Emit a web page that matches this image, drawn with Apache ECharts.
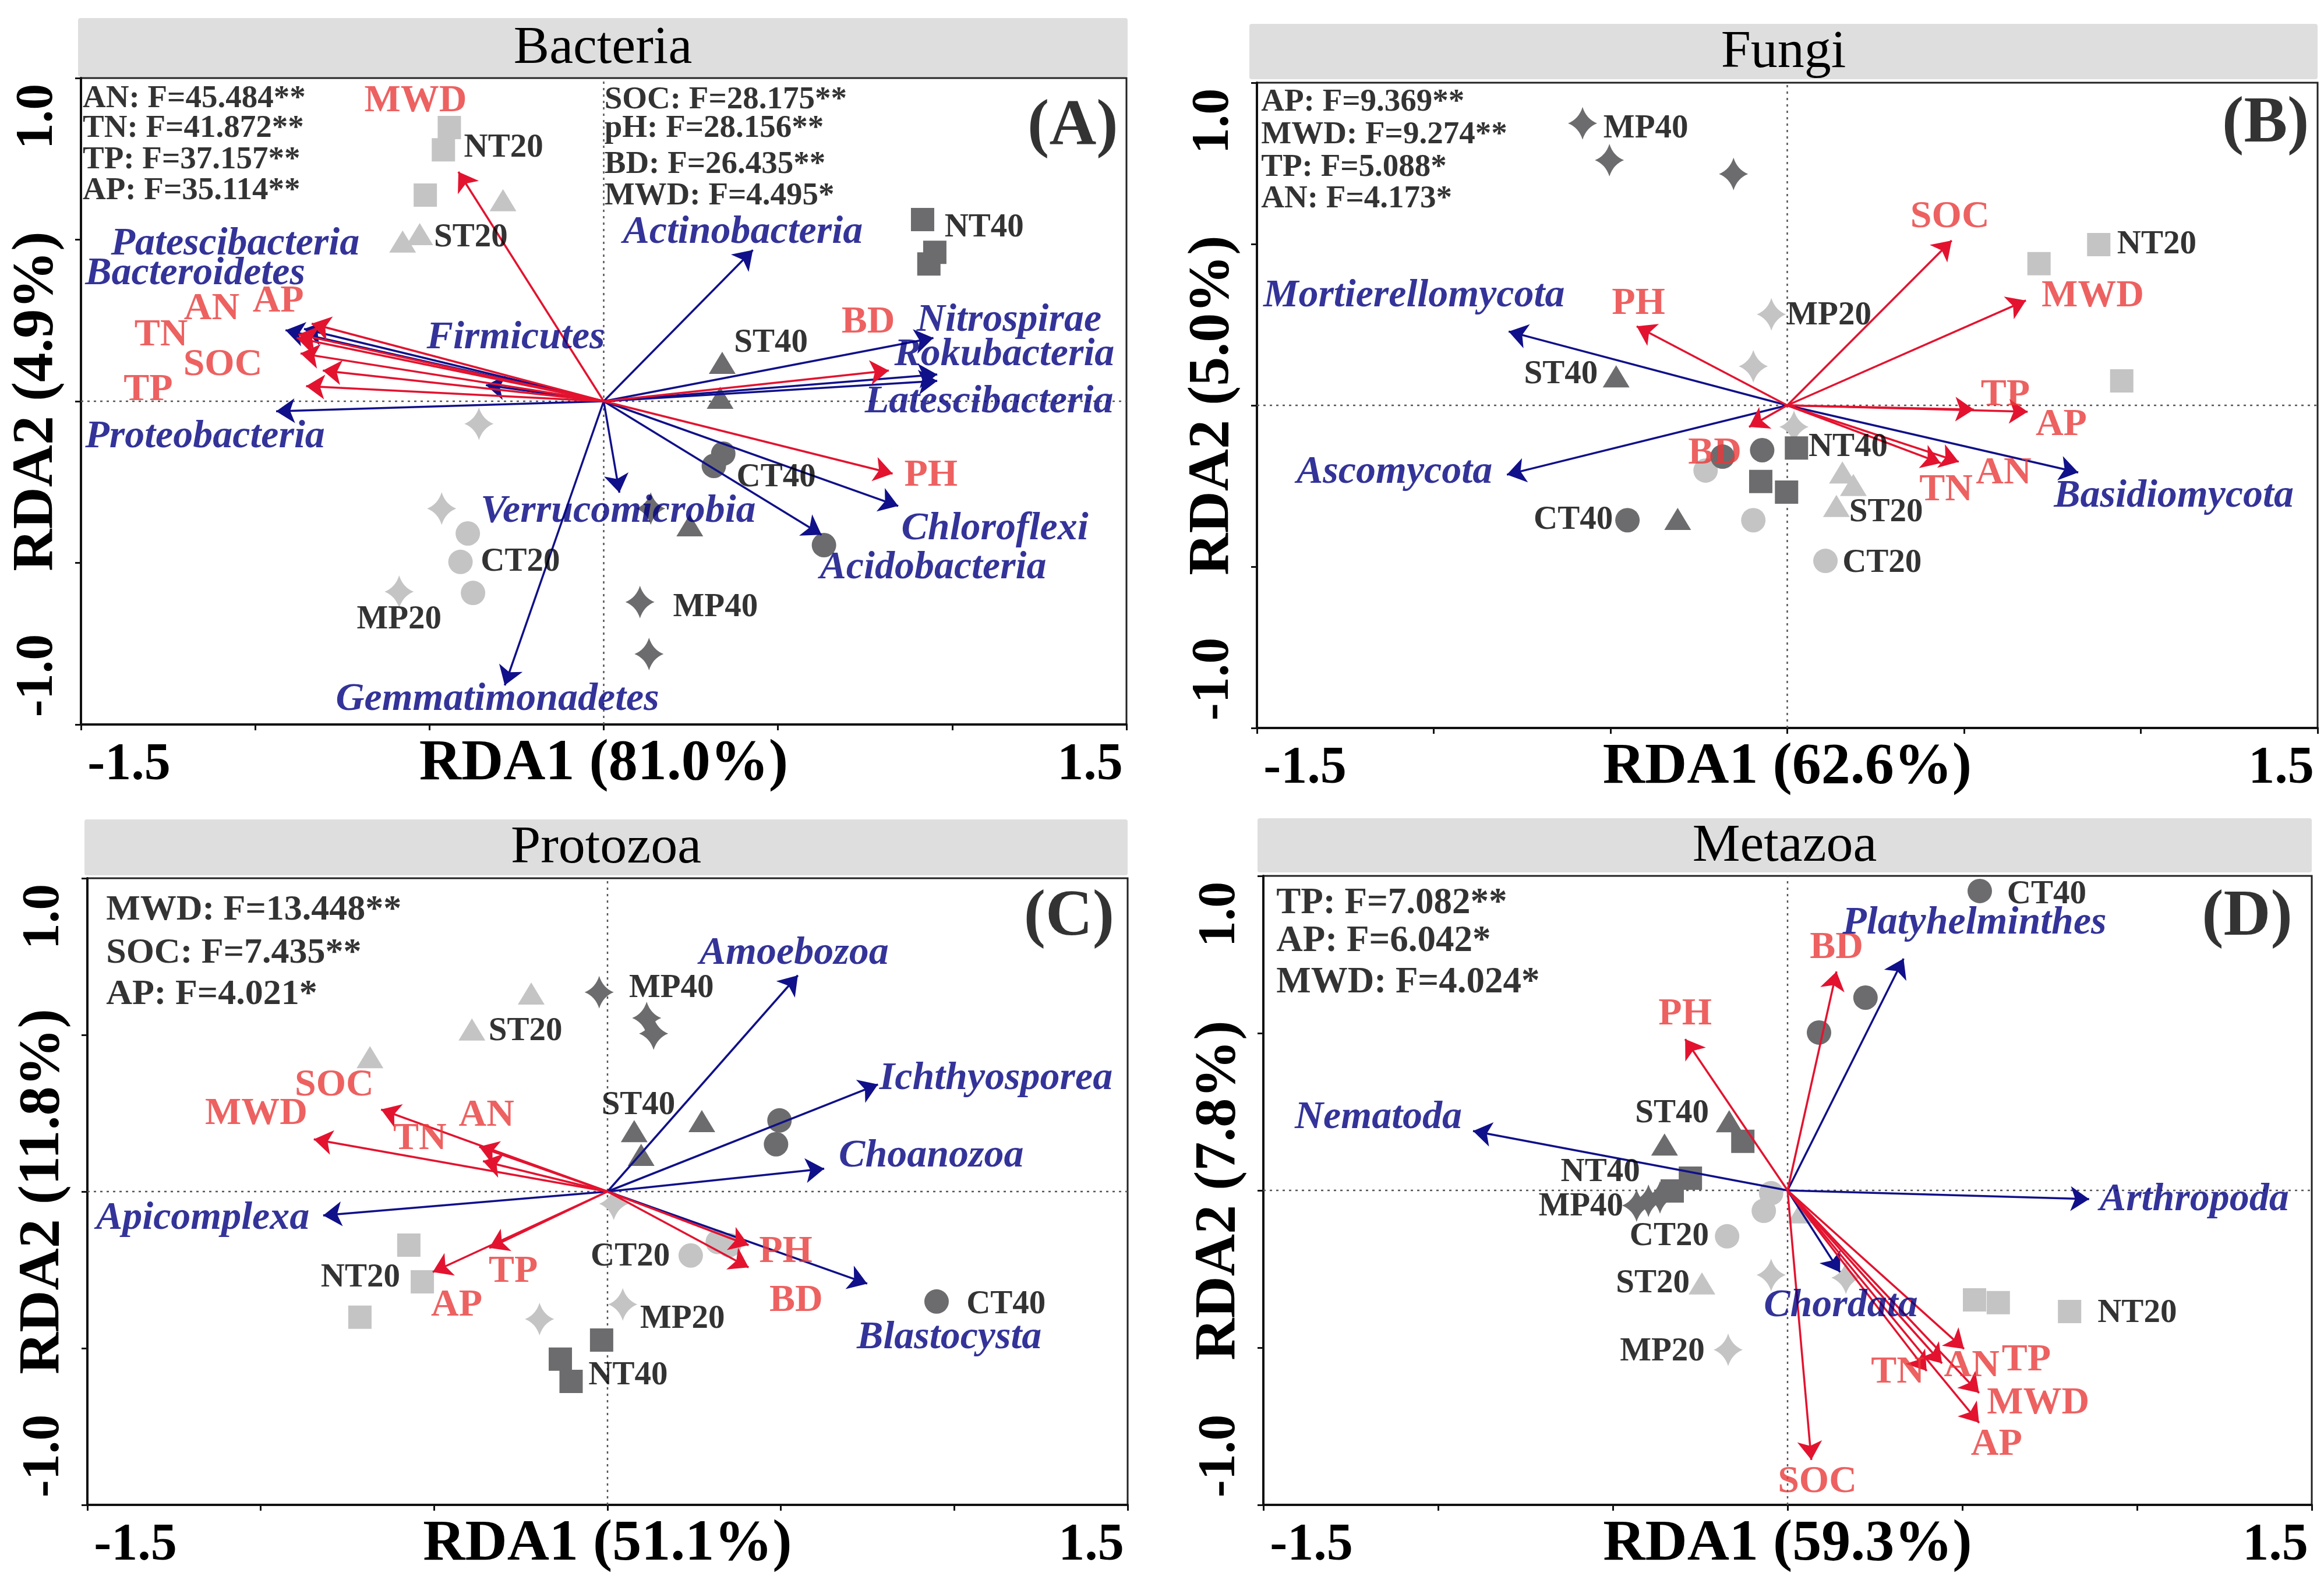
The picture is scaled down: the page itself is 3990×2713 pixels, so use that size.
<!DOCTYPE html>
<html><head><meta charset="utf-8">
<script src="https://cdn.jsdelivr.net/npm/echarts@6/dist/echarts.min.js"></script>
<style>html,body{margin:0;padding:0;background:#fff}#c{width:3990px;height:2713px}</style>
</head><body><div id="c"></div>
<script>
// ---------------- DATA ----------------
const panelTitles = ['Bacteria', 'Fungi', 'Protozoa', 'Metazoa'];
const panelLetters = ['(A)', '(B)', '(C)', '(D)'];
const rda1Names = ['RDA1 (81.0%)', 'RDA1 (62.6%)', 'RDA1 (51.1%)', 'RDA1 (59.3%)'];
const rda2Names = ['RDA2 (4.9%)', 'RDA2 (5.0%)', 'RDA2 (11.8%)', 'RDA2 (7.8%)'];
const xTickLabels = ['-1.5', '1.5'];
const yTickLabels = ['-1.0', '1.0'];

// Bacteria
const bacteriaSamples = [
  ['NT20', [[-0.443, 0.847], [-0.460, 0.778], [-0.512, 0.638]]],
  ['ST20', [[-0.289, 0.622], [-0.577, 0.494], [-0.528, 0.517]]],
  ['CT20', [[-0.390, -0.409], [-0.411, -0.497], [-0.375, -0.593]]],
  ['MP20', [[-0.358, -0.070], [-0.465, -0.332], [-0.587, -0.589]]],
  ['NT40', [[0.915, 0.562], [0.950, 0.461], [0.933, 0.425]]],
  ['ST40', [[0.340, 0.119], [0.334, 0.011], [0.247, -0.384]]],
  ['CT40', [[0.343, -0.162], [0.316, -0.200], [0.632, -0.445]]],
  ['MP40', [[0.135, -0.332], [0.104, -0.621], [0.130, -0.782]]]
];
const bacteriaEnv = [['MWD', -0.417, 0.710], ['AP', -0.838, 0.240], ['AN', -0.876, 0.207], ['TN', -0.881, 0.196],
  ['SOC', -0.870, 0.148], ['TP', -0.806, 0.095], ['', -0.854, 0.047], ['BD', 0.818, 0.095], ['PH', 0.829, -0.224]];
const bacteriaTaxa = [['Patescibacteria', -0.913, 0.220], ['Bacteroidetes', -0.860, 0.224], ['Firmicutes', -0.338, 0.050],
  ['Proteobacteria', -0.940, -0.031], ['Actinobacteria', 0.428, 0.468], ['Nitrospirae', 0.946, 0.196],
  ['Rokubacteria', 0.957, 0.083], ['Latescibacteria', 0.957, 0.063], ['Verrucomicrobia', 0.045, -0.283],
  ['Chloroflexi', 0.845, -0.324], ['Acidobacteria', 0.625, -0.413], ['Gemmatimonadetes', -0.284, -0.879]];
const bacteriaStats = ['AN: F=45.484**', 'TN: F=41.872**', 'TP: F=37.157**', 'AP: F=35.114**',
  'SOC: F=28.175**', 'pH: F=28.156**', 'BD: F=26.435**', 'MWD: F=4.495*'];

// Fungi
const fungiSamples = [
  ['NT20', [[0.881, 0.498], [0.712, 0.439], [0.946, 0.076]]],
  ['ST20', [[0.156, -0.208], [0.187, -0.247], [0.139, -0.312]]],
  ['CT20', [[0.108, -0.482], [-0.096, -0.356], [-0.231, -0.202]]],
  ['MP20', [[-0.045, 0.282], [-0.096, 0.121], [0.019, -0.067]]],
  ['NT40', [[0.026, -0.132], [-0.075, -0.236], [-0.002, -0.269]]],
  ['ST40', [[-0.484, 0.090], [-0.310, -0.352]]],
  ['CT40', [[-0.452, -0.356], [-0.183, -0.159], [-0.071, -0.139]]],
  ['MP40', [[-0.579, 0.874], [-0.503, 0.760], [-0.152, 0.717]]]
];
const fungiEnv = [['SOC', 0.465, 0.511], ['MWD', 0.675, 0.325], ['TP', 0.528, -0.013], ['AP', 0.680, -0.020],
  ['TN', 0.434, -0.179], ['AN', 0.485, -0.175], ['PH', -0.426, 0.245], ['BD', -0.108, -0.067]];
const fungiTaxa = [['Mortierellomycota', -0.788, 0.229], ['Ascomycota', -0.793, -0.215], ['Basidiomycota', 0.823, -0.208]];
const fungiStats = ['AP: F=9.369**', 'MWD: F=9.274**', 'TP: F=5.088*', 'AN: F=4.173*'];

// Protozoa
const protozoaSamples = [
  ['NT20', [[-0.573, -0.171], [-0.534, -0.288], [-0.714, -0.401]]],
  ['ST20', [[-0.220, 0.632], [-0.391, 0.517], [-0.685, 0.429]]],
  ['CT20', [[0.240, -0.204], [0.318, -0.161], [0.351, -0.171]]],
  ['MP20', [[-0.196, -0.407], [0.044, -0.360], [0.018, -0.039]]],
  ['NT40', [[-0.017, -0.474], [-0.136, -0.535], [-0.105, -0.606]]],
  ['ST40', [[0.077, 0.193], [0.272, 0.225], [0.097, 0.117]]],
  ['CT40', [[0.496, 0.227], [0.486, 0.151], [0.949, -0.351]]],
  ['MP40', [[-0.024, 0.636], [0.113, 0.554], [0.133, 0.504]]]
];
const protozoaEnv = [['SOC', -0.653, 0.262], ['MWD', -0.847, 0.167], ['AN', -0.370, 0.143], ['TN', -0.359, 0.097],
  ['AP', -0.504, -0.257], ['TP', -0.341, -0.180], ['PH', 0.407, -0.171], ['BD', 0.407, -0.242]];
const protozoaTaxa = [['Amoebozoa', 0.549, 0.690], ['Ichthyosporea', 0.780, 0.342], ['Choanozoa', 0.625, 0.073],
  ['Apicomplexa', -0.820, -0.076], ['Blastocysta', 0.749, -0.294]];
const protozoaStats = ['MWD: F=13.448**', 'SOC: F=7.435**', 'AP: F=4.021*'];

// Metazoa
const metazoaSamples = [
  ['NT20', [[0.535, -0.348], [0.603, -0.357], [0.807, -0.385]]],
  ['ST20', [[-0.245, -0.296], [0.038, -0.070]]],
  ['CT20', [[-0.173, -0.146], [-0.068, -0.065], [-0.047, -0.009]]],
  ['MP20', [[-0.170, -0.507], [-0.047, -0.269], [0.167, -0.278]]],
  ['NT40', [[-0.128, 0.156], [-0.278, 0.039], [-0.330, -0.002]]],
  ['ST40', [[-0.167, 0.220], [-0.352, 0.146]]],
  ['CT40', [[0.550, 0.952], [0.223, 0.613], [0.090, 0.502]]],
  ['MP40', [[-0.432, -0.048], [-0.398, -0.033], [-0.365, -0.022]]]
];
const metazoaEnv = [['BD', 0.140, 0.696], ['PH', -0.293, 0.481], ['TP', 0.505, -0.504], ['AN', 0.442, -0.550],
  ['TN', 0.398, -0.574], ['MWD', 0.548, -0.644], ['AP', 0.548, -0.739], ['SOC', 0.068, -0.857]];
const metazoaTaxa = [['Platyhelminthes', 0.332, 0.737], ['Nematoda', -0.900, 0.189], ['Arthropoda', 0.863, -0.028],
  ['Chordata', 0.150, -0.260]];
const metazoaStats = ['TP: F=7.082**', 'AP: F=6.042*', 'MWD: F=4.024*'];

// ---------------- LAYOUT (label anchors in axis units, not data) ----------------
const bacteriaSampleLabelPos = [['NT20', -0.401, 0.784, 'left'], ['ST20', -0.487, 0.506, 'left'], ['MP20', -0.587, -0.677, 'center'],
  ['CT20', -0.353, -0.497, 'left'], ['NT40', 0.978, 0.537, 'left'], ['ST40', 0.374, 0.180, 'left'], ['CT40', 0.381, -0.236, 'left'], ['MP40', 0.199, -0.638, 'left']];
const bacteriaEnvLabelPos = [['MWD', -0.540, 0.928], ['AN', -1.125, 0.285], ['AP', -0.934, 0.308], ['TN', -1.270, 0.204],
  ['SOC', -1.093, 0.112], ['TP', -1.307, 0.034], ['BD', 0.759, 0.243], ['PH', 0.939, -0.231]];
const bacteriaTaxaLabelPos = [['Patescibacteria', -1.414, 0.485], ['Bacteroidetes', -1.488, 0.393], ['Firmicutes', -0.508, 0.196],
  ['Proteobacteria', -1.488, -0.110], ['Actinobacteria', 0.055, 0.521], ['Nitrospirae', 0.898, 0.249], ['Rokubacteria', 0.834, 0.144],
  ['Latescibacteria', 0.749, -0.002], ['Verrucomicrobia', -0.353, -0.341], ['Chloroflexi', 0.854, -0.396], ['Acidobacteria', 0.620, -0.517],
  ['Gemmatimonadetes', -0.769, -0.923]];
const bacteriaStatsPos = [[-1.495, 0.935], [-1.495, 0.843], [-1.495, 0.746], [-1.495, 0.650],
  [0.002, 0.932], [0.002, 0.843], [0.002, 0.732], [0.002, 0.634]];

const fungiSampleLabelPos = [['MP40', -0.520, 0.857, 'left'], ['MP20', -0.002, 0.278, 'left'], ['NT20', 0.933, 0.498, 'left'], ['NT40', 0.060, -0.130, 'left'],
  ['ST20', 0.175, -0.332, 'left'], ['CT20', 0.156, -0.489, 'left'], ['CT40', -0.493, -0.356, 'right'], ['ST40', -0.536, 0.096, 'right']];
const fungiEnvLabelPos = [['SOC', 0.460, 0.583], ['MWD', 0.864, 0.338], ['TP', 0.617, 0.031], ['AP', 0.775, -0.061],
  ['TN', 0.449, -0.264], ['AN', 0.612, -0.211], ['PH', -0.421, 0.314], ['BD', -0.205, -0.150]];
const fungiTaxaLabelPos = [['Mortierellomycota', -1.482, 0.338], ['Ascomycota', -1.388, -0.208], ['Basidiomycota', 0.754, -0.283]];
const fungiStatsPos = [[-1.488, 0.939], [-1.488, 0.838], [-1.488, 0.736], [-1.488, 0.639]];

const protozoaSampleLabelPos = [['ST20', -0.343, 0.511, 'left'], ['MP40', 0.062, 0.649, 'left'], ['ST40', 0.089, 0.275, 'center'], ['CT40', 1.035, -0.361, 'left'],
  ['NT20', -0.598, -0.275, 'right'], ['MP20', 0.094, -0.407, 'left'], ['CT20', 0.180, -0.208, 'right'], ['NT40', -0.055, -0.587, 'left']];
const protozoaEnvLabelPos = [['SOC', -0.788, 0.338], ['MWD', -1.013, 0.247], ['AN', -0.349, 0.241], ['TN', -0.541, 0.167],
  ['AP', -0.435, -0.364], ['TP', -0.272, -0.257], ['PH', 0.514, -0.194], ['BD', 0.544, -0.350]];
const protozoaTaxaLabelPos = [['Amoebozoa', 0.265, 0.760], ['Ichthyosporea', 0.784, 0.359], ['Choanozoa', 0.667, 0.113],
  ['Apicomplexa', -1.475, -0.086], ['Blastocysta', 0.719, -0.468]];
const protozoaStatsPos = [[-1.446, 0.898], [-1.446, 0.760], [-1.446, 0.628]];

const metazoaSampleLabelPos = [['CT40', 0.628, 0.941, 'left'], ['ST40', -0.225, 0.243, 'right'], ['NT40', -0.422, 0.056, 'right'], ['MP40', -0.470, -0.052, 'right'],
  ['CT20', -0.225, -0.146, 'right'], ['ST20', -0.280, -0.296, 'right'], ['MP20', -0.237, -0.513, 'right'], ['NT20', 0.887, -0.391, 'left']];
const metazoaEnvLabelPos = [['BD', 0.140, 0.770], ['PH', -0.293, 0.559], ['TN', 0.315, -0.580], ['AN', 0.527, -0.559],
  ['TP', 0.683, -0.541], ['MWD', 0.717, -0.678], ['AP', 0.598, -0.809], ['SOC', 0.085, -0.928]];
const metazoaTaxaLabelPos = [['Platyhelminthes', 0.157, 0.850], ['Nematoda', -1.410, 0.230], ['Arthropoda', 0.893, -0.030], ['Chordata', -0.068, -0.367]];
const metazoaStatsPos = [[-1.463, 0.911], [-1.463, 0.791], [-1.463, 0.659]];

const letterPos = [[1.346, 0.847], [1.353, 0.870], [1.331, 0.874], [1.315, 0.867]];
const statsFont = [55, 55, 62, 63];

const grids = [
  { left: 139, top: 134, width: 1795, height: 1110 },
  { left: 2158, top: 142, width: 1821, height: 1108 },
  { left: 150, top: 1508, width: 1786, height: 1076 },
  { left: 2169, top: 1504, width: 1800, height: 1080 }
];
const strips = [[134, 31, 1802, 101], [2145, 41, 1834, 95], [145, 1407, 1791, 96], [2159, 1405, 1810, 93]];

// ---------------- STYLE ----------------
const SERIF = '"Liberation Serif","Times New Roman",serif';
const LIGHT = '#c4c4c4', DARK = '#6c6c6e';
const RED = '#e3132f', REDTXT = '#e83a3a', BLUE = '#10108a', BLUETXT = '#000080';
const STAR = 'path://M0,-10 Q2.6,-2.6 10,0 Q2.6,2.6 0,10 Q-2.6,2.6 -10,0 Q-2.6,-2.6 0,-10 Z';
const groupStyle = {
  NT20: { symbol: 'rect', size: 40, color: LIGHT }, NT40: { symbol: 'rect', size: 40, color: DARK },
  ST20: { symbol: 'triangle', size: [46, 38], color: LIGHT }, ST40: { symbol: 'triangle', size: [46, 38], color: DARK },
  CT20: { symbol: 'circle', size: 42, color: LIGHT }, CT40: { symbol: 'circle', size: 42, color: DARK },
  MP20: { symbol: STAR, size: [50, 56], color: LIGHT }, MP40: { symbol: STAR, size: [50, 56], color: DARK }
};

const panels = [
  { samples: bacteriaSamples, env: bacteriaEnv, taxa: bacteriaTaxa, stats: bacteriaStats, statsPos: bacteriaStatsPos,
    sLab: bacteriaSampleLabelPos, eLab: bacteriaEnvLabelPos, tLab: bacteriaTaxaLabelPos },
  { samples: fungiSamples, env: fungiEnv, taxa: fungiTaxa, stats: fungiStats, statsPos: fungiStatsPos,
    sLab: fungiSampleLabelPos, eLab: fungiEnvLabelPos, tLab: fungiTaxaLabelPos },
  { samples: protozoaSamples, env: protozoaEnv, taxa: protozoaTaxa, stats: protozoaStats, statsPos: protozoaStatsPos,
    sLab: protozoaSampleLabelPos, eLab: protozoaEnvLabelPos, tLab: protozoaTaxaLabelPos },
  { samples: metazoaSamples, env: metazoaEnv, taxa: metazoaTaxa, stats: metazoaStats, statsPos: metazoaStatsPos,
    sLab: metazoaSampleLabelPos, eLab: metazoaEnvLabelPos, tLab: metazoaTaxaLabelPos }
];

function near(a, b) { return Math.abs(a - b) < 1e-6; }

const gridOpt = [], xAxes = [], yAxes = [], series = [], graphic = [];

function textSeries(i, items, style, z) {
  return {
    type: 'scatter', xAxisIndex: i, yAxisIndex: i, symbolSize: 1, silent: true, z: z || 10,
    itemStyle: { color: 'rgba(0,0,0,0)' },
    data: items.map(it => ({ value: [it[1], it[2]], name: it[0], label: { align: it[3] || 'center' } })),
    label: Object.assign({ show: true, position: 'inside', verticalAlign: 'middle', formatter: p => p.name, fontFamily: SERIF }, style)
  };
}

panels.forEach((P, i) => {
  gridOpt.push(Object.assign({ show: true, borderColor: '#222', borderWidth: 3, backgroundColor: '#fff',
    containLabel: false, outerBoundsMode: 'none' }, grids[i]));
  xAxes.push({
    gridIndex: i, type: 'value', min: -1.5, max: 1.5, interval: 0.5,
    axisLine: { show: true, onZero: false, lineStyle: { color: '#111', width: 4 } },
    axisTick: { show: true, length: 10, lineStyle: { color: '#111', width: 3 } },
    splitLine: { show: false },
    axisLabel: {
      margin: 26, fontFamily: SERIF, fontWeight: 'bold', fontSize: 90, color: '#000', hideOverlap: false,
      formatter: v => near(v, -1.5) ? '{l|' + xTickLabels[0] + '}' : (near(v, 1.5) ? '{r|' + xTickLabels[1] + '}' : ''),
      rich: {
        l: { fontFamily: SERIF, fontWeight: 'bold', fontSize: 90, color: '#000', padding: [0, 0, 0, 165] },
        r: { fontFamily: SERIF, fontWeight: 'bold', fontSize: 90, color: '#000', padding: [0, 125, 0, 0] }
      }
    },
    name: rda1Names[i], nameLocation: 'middle', nameGap: 18, nameMoveOverlap: false,
    nameTextStyle: { fontFamily: SERIF, fontWeight: 'bold', fontSize: 100, color: '#000', verticalAlign: 'top' }
  });
  yAxes.push({
    gridIndex: i, type: 'value', min: -1, max: 1, interval: 0.5,
    axisLine: { show: true, onZero: false, lineStyle: { color: '#111', width: 4 } },
    axisTick: { show: true, length: 10, lineStyle: { color: '#111', width: 3 } },
    splitLine: { show: false },
    axisLabel: {
      margin: 28, rotate: 90, fontFamily: SERIF, fontWeight: 'bold', fontSize: 90, color: '#000', hideOverlap: false,
      formatter: v => near(v, 1) ? '{t|' + yTickLabels[1] + '}' : (near(v, -1) ? '{b|' + yTickLabels[0] + '}' : ''),
      rich: {
        t: { fontFamily: SERIF, fontWeight: 'bold', fontSize: 90, color: '#000', padding: [0, 132, 0, 0] },
        b: { fontFamily: SERIF, fontWeight: 'bold', fontSize: 90, color: '#000', padding: [0, 0, 0, 168] }
      }
    },
    name: rda2Names[i], nameLocation: 'middle', nameGap: 26, nameMoveOverlap: false,
    nameTextStyle: { fontFamily: SERIF, fontWeight: 'bold', fontSize: 100, color: '#000' }
  });

  // zero lines
  series.push({ type: 'line', xAxisIndex: i, yAxisIndex: i, data: [[0, -1], [0, 1]], symbol: 'none', silent: true, z: 1,
    lineStyle: { color: '#555', width: 2.5, type: [4, 7] } });
  series.push({ type: 'line', xAxisIndex: i, yAxisIndex: i, data: [[-1.5, 0], [1.5, 0]], symbol: 'none', silent: true, z: 1,
    lineStyle: { color: '#555', width: 2.5, type: [4, 7] } });

  // samples
  P.samples.forEach(g => {
    const st = groupStyle[g[0]];
    series.push({ type: 'scatter', xAxisIndex: i, yAxisIndex: i, name: g[0], data: g[1], symbol: st.symbol,
      symbolSize: st.size, itemStyle: { color: st.color, opacity: 1 }, silent: true, z: 2 });
  });

  // arrows
  series.push({ type: 'lines', coordinateSystem: 'cartesian2d', xAxisIndex: i, yAxisIndex: i, silent: true, z: 3,
    symbol: ['none', 'arrow'], symbolSize: [1, 32],
    lineStyle: { color: BLUE, width: 3.5, opacity: 1, curveness: 0 },
    data: P.taxa.map(t => ({ coords: [[0, 0], [t[1], t[2]]] })) });
  series.push({ type: 'lines', coordinateSystem: 'cartesian2d', xAxisIndex: i, yAxisIndex: i, silent: true, z: 4,
    symbol: ['none', 'arrow'], symbolSize: [1, 32],
    lineStyle: { color: RED, width: 3.5, opacity: 1, curveness: 0 },
    data: P.env.map(t => ({ coords: [[0, 0], [t[1], t[2]]] })) });

  // labels
  series.push(textSeries(i, P.sLab, { fontWeight: 'bold', fontSize: 57, color: '#000' }));
  series.push(textSeries(i, P.eLab, { fontWeight: 'bold', fontSize: 66, color: REDTXT }));
  series.push(textSeries(i, P.tLab.map(t => [t[0], t[1], t[2], 'left']), { fontWeight: 'bold', fontStyle: 'italic', fontSize: 68, color: BLUETXT }));
  series.push(textSeries(i, P.stats.map((s, k) => [s, P.statsPos[k][0], P.statsPos[k][1], 'left']), { fontWeight: 'bold', fontSize: statsFont[i], color: '#000' }));
  series.push(textSeries(i, [[panelLetters[i], letterPos[i][0], letterPos[i][1], 'center']], { fontWeight: 'bold', fontSize: 112, color: '#000' }));

  // title strip
  const s = strips[i];
  graphic.push({ type: 'rect', shape: { x: s[0], y: s[1], width: s[2], height: s[3], r: 4 }, style: { fill: '#dedede' }, z: 0, silent: true });
  graphic.push({ type: 'text', x: s[0] + s[2] / 2, y: s[1] + s[3] / 2 + 2, silent: true, z: 1,
    style: { text: panelTitles[i], fontFamily: SERIF, fontSize: 92, fill: '#000', align: 'center', verticalAlign: 'middle' } });
});

const chart = echarts.init(document.getElementById('c'), null, { renderer: 'canvas' });
chart.setOption({
  backgroundColor: '#fff', animation: false,
  grid: gridOpt, xAxis: xAxes, yAxis: yAxes, series: series, graphic: graphic
});
</script></body></html>
